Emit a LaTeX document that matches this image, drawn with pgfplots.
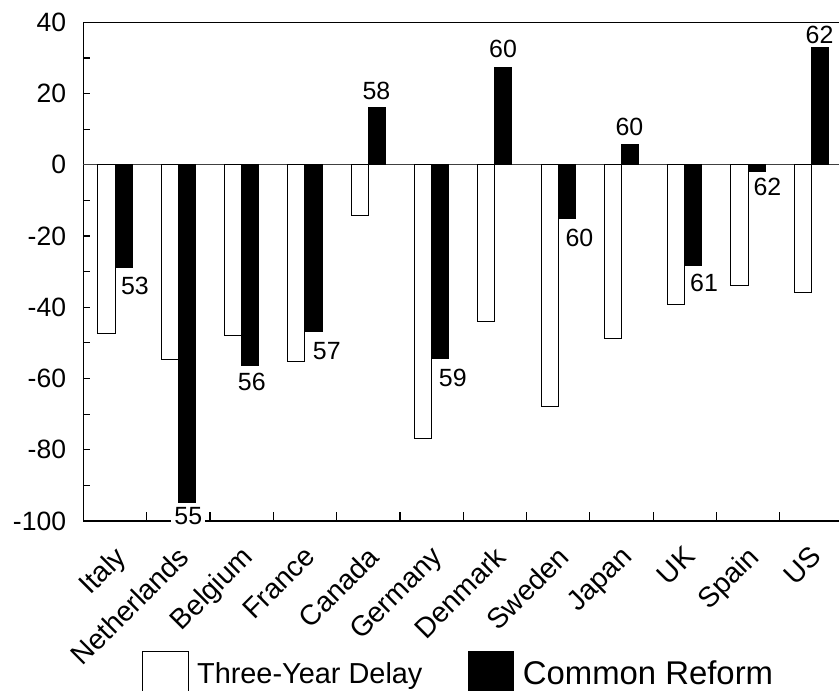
\documentclass[border=0pt]{standalone}
\usepackage{fontspec}
\setmainfont{Liberation Sans}
\usepackage{pgfplots}
\pgfplotsset{compat=1.18}
\begin{document}
\begin{tikzpicture}
\begin{axis}[
  at={(0,0)}, anchor=south west,
  scale only axis, width=379.8bp, height=249.35bp,
  xmin=-0.5, xmax=11.5, ymin=-100, ymax=40,
  axis line style={line width=0.75bp},
  clip=false,
  bar width=0.27,
  xtick={0,...,11},
  xticklabels={Italy,Netherlands,Belgium,France,Canada,Germany,Denmark,Sweden,Japan,UK,Spain,US},
  minor xtick={0.5,1.5,...,10.5},
  ytick={-100,-90,...,40},
  yticklabels={-100,,-80,,-60,,-40,,-20,,0,,20,,40},
  tick align=inside, xtick pos=bottom, ytick pos=left,
  major tick length=3.5bp, minor tick length=4.5bp,
  major x tick style={draw=none},
  tick style={line width=0.6bp, black},
  xticklabel style={font=\fontsize{14.2}{16}\selectfont, xshift=-1bp, yshift=-11.5bp, rotate=45, anchor=north east, inner sep=0pt},
  yticklabel style={font=\fontsize{13.3}{15}\selectfont, anchor=east, inner sep=0pt, xshift=-8.5bp},
  extra y ticks={0}, extra y tick labels={},
  extra y tick style={grid=major, major grid style={line width=0.5bp, black!75}, major tick length=0pt},
  legend style={at={(axis description cs:0.07675,-0.2601)}, anchor=north west, draw=none, fill=none,
    inner sep=0pt, legend columns=2, cells={anchor=west}, nodes={inner sep=0pt},
    /tikz/every odd column/.style={column sep=4.2bp},
    /tikz/every even column/.style={column sep=22.7bp}},
]
\addplot[ybar, bar shift=-0.135, fill=white, draw=black, line width=0.5bp,
  legend image code/.code={\draw[fill=white,draw=black,line width=0.5bp] (0bp,-11.4bp) rectangle (22.8bp,11.4bp);}]
  coordinates {(0,-47.3) (1,-54.6) (2,-47.8) (3,-55.1) (4,-14.1) (5,-76.8) (6,-44.0) (7,-67.8) (8,-48.8) (9,-39.1) (10,-34.0) (11,-35.8)};
\addlegendentry{\fontsize{14.5}{16}\selectfont Three-Year Delay}
\addplot[ybar, bar shift=0.135, fill=black, draw=black, line width=0.5bp,
  legend image code/.code={\draw[fill=black,draw=black,line width=0.5bp] (0bp,-11.4bp) rectangle (22.8bp,11.4bp);}]
  coordinates {(0,-28.8) (1,-94.7) (2,-56.4) (3,-46.7) (4,16.0) (5,-54.4) (6,27.4) (7,-15.1) (8,5.6) (9,-28.4) (10,-1.9) (11,33.0)};
\addlegendentry{\fontsize{16.5}{18}\selectfont Common Reform}
\begin{scope}[every node/.style={font=\fontsize{12.5}{14}\selectfont, inner sep=0pt}]
\node[anchor=north west, yshift=-4.8bp] at (axis cs:0.09,-28.8) {53};
\node[anchor=north, yshift=-2.5bp, fill=white, inner xsep=1.5bp] at (axis cs:1.158,-94.7) {55};
\node[anchor=north, yshift=-3.6bp] at (axis cs:2.16,-56.4) {56};
\node[anchor=north west, yshift=-5.3bp] at (axis cs:3.12,-46.7) {57};
\node[anchor=south, yshift=3.8bp] at (axis cs:4.128,16.0) {58};
\node[anchor=north west, yshift=-5bp] at (axis cs:5.11,-54.4) {59};
\node[anchor=south, yshift=4.5bp] at (axis cs:6.13,27.4) {60};
\node[anchor=north west, yshift=-5bp] at (axis cs:7.11,-15.1) {60};
\node[anchor=south, yshift=4.4bp] at (axis cs:8.125,5.6) {60};
\node[anchor=north west, yshift=-3.8bp] at (axis cs:9.08,-28.4) {61};
\node[anchor=north west, yshift=-3.3bp] at (axis cs:10.08,-1.9) {62};
\node[anchor=south, yshift=1.5bp] at (axis cs:11.13,33.0) {62};
\end{scope}
\end{axis}
\pgfresetboundingbox
\path[use as bounding box] (-41.7bp,-85bp) rectangle (377.8bp,260.5bp);
\end{tikzpicture}
\end{document}
